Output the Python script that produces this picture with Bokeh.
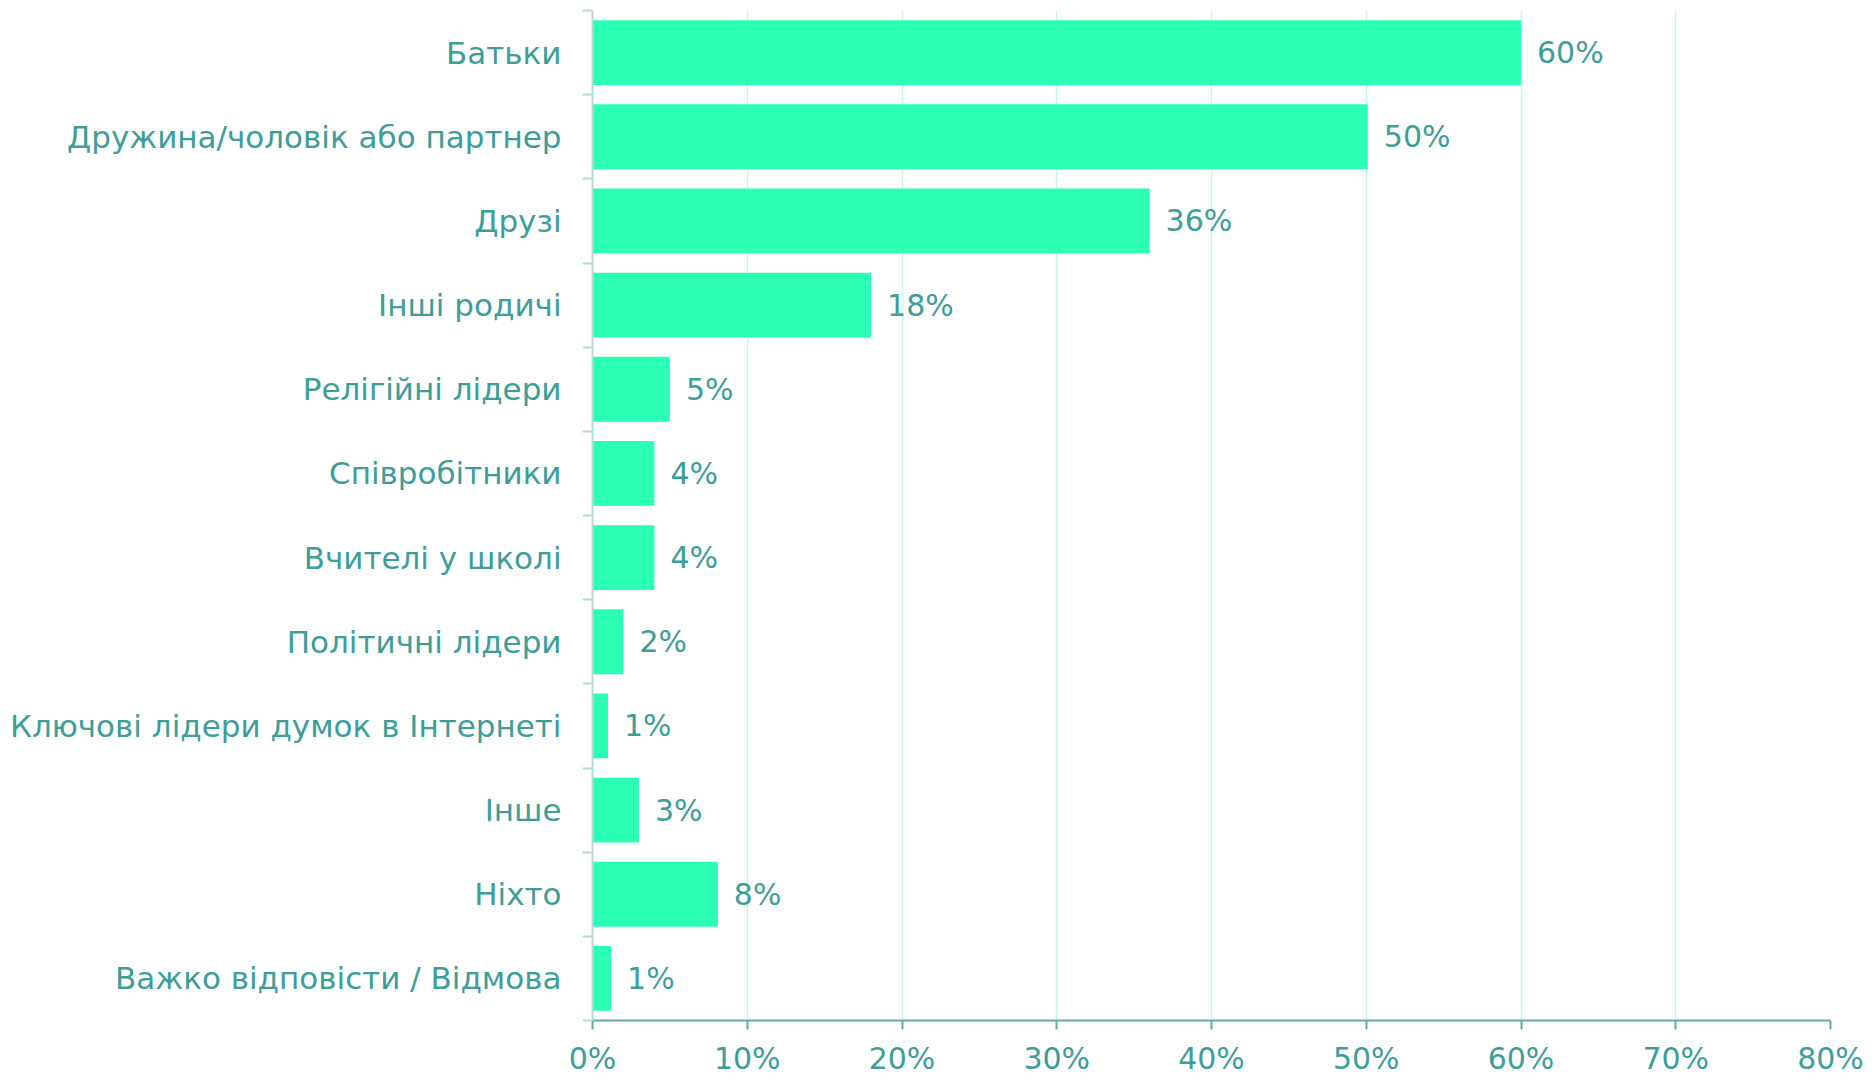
from bokeh.plotting import figure
from bokeh.models import Range1d, FixedTicker, PrintfTickFormatter, ColumnDataSource
from bokeh.core.properties import value
from bokeh.embed import file_html
from bokeh.resources import INLINE

categories = [
    "Батьки",
    "Дружина/чоловік або партнер",
    "Друзі",
    "Інші родичі",
    "Релігійні лідери",
    "Співробітники",
    "Вчителі у школі",
    "Політичні лідери",
    "Ключові лідери думок в Інтернеті",
    "Інше",
    "Ніхто",
    "Важко відповісти / Відмова",
]
values = [60.0, 50.1, 36.0, 18.0, 5.0, 4.0, 4.0, 2.0, 1.0, 3.0, 8.1, 1.2]
x_ticks = [0, 10, 20, 30, 40, 50, 60, 70, 80]

FONT = "DejaVu Sans"
TEXT = "#3d9e99"
BAR = "#2bffb4"
GRID = "#c4f7e7"
XAXIS = "#62aba7"
YAXIS = "#b6dad7"
FS = "30px"
FS_CAT = "31px"

n = len(categories)
pos = list(range(n))
src = ColumnDataSource(dict(
    y=pos,
    v=values,
    lbl=[f"{round(v)}%" for v in values],
))

W, H = 1870, 1078
p = figure(
    width=W, height=H,
    x_range=Range1d(0, x_ticks[-1]),
    y_range=Range1d(n - 0.5, -0.5),
    output_backend="svg", toolbar_location=None,
    min_border_left=592, min_border_right=W - 1830,
    min_border_top=10, min_border_bottom=H - 1020,
)
p.outline_line_color = None
p.background_fill_color = "white"

p.hbar(y="y", right="v", left=0, height=0.77, source=src,
       fill_color=BAR, line_color=None)

p.text(x="v", y="y", text="lbl", source=src, x_offset=16,
       text_align="left", text_baseline="middle",
       text_font=value(FONT), text_font_size=FS, text_color=TEXT)

# grid
p.ygrid.grid_line_color = None
p.xgrid.ticker = FixedTicker(ticks=x_ticks)
p.xgrid.grid_line_color = GRID
p.xgrid.grid_line_width = 1.5

# x axis
xa = p.xaxis[0]
xa.ticker = FixedTicker(ticks=x_ticks)
xa.formatter = PrintfTickFormatter(format="%d%%")
xa.axis_line_color = XAXIS
xa.axis_line_width = 2
xa.major_tick_line_color = XAXIS
xa.major_tick_line_width = 2
xa.major_tick_out = 9
xa.major_tick_in = 0
xa.minor_tick_line_color = None
xa.major_label_text_font = FONT
xa.major_label_text_font_size = FS
xa.major_label_text_color = TEXT
xa.major_label_standoff = 11

# y axis
ya = p.yaxis[0]
ya.ticker = FixedTicker(ticks=pos, minor_ticks=[i - 0.5 for i in range(n + 1)])
ya.major_label_overrides = {i: c for i, c in zip(pos, categories)}
ya.major_tick_line_color = None
ya.major_tick_out = 0
ya.major_tick_in = 0
ya.minor_tick_line_color = YAXIS
ya.minor_tick_line_width = 2
ya.minor_tick_out = 10
ya.minor_tick_in = 0
ya.axis_line_color = YAXIS
ya.axis_line_width = 2
ya.major_label_text_font = FONT
ya.major_label_text_font_size = FS_CAT
ya.major_label_text_color = TEXT
ya.major_label_standoff = 21

open("out.html", "w").write(file_html(p, INLINE))
